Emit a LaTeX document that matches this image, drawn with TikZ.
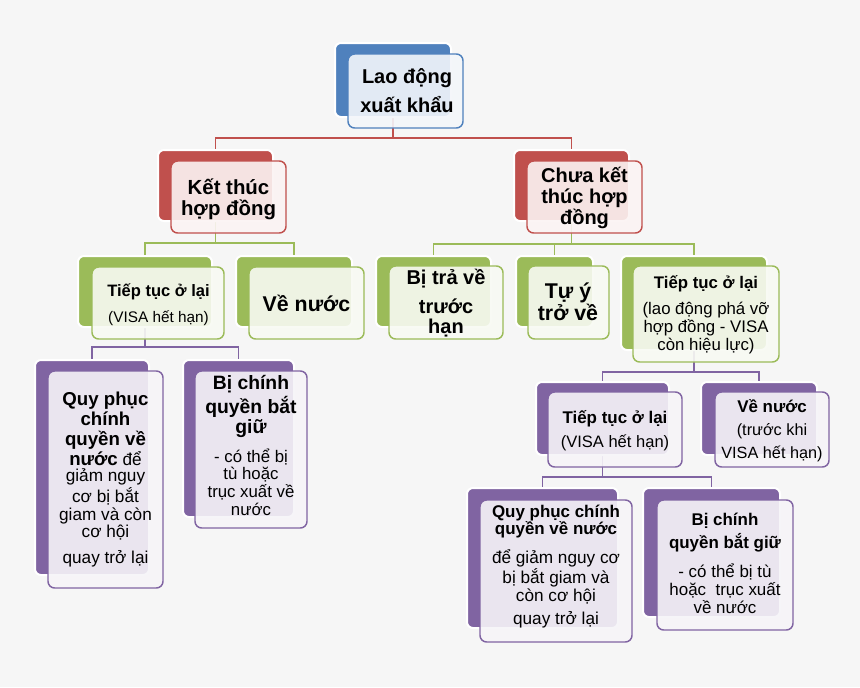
\documentclass[tikz,border=0pt]{standalone}
\usepackage{fontspec}
\setmainfont{Liberation Sans}
\pgfdeclarelayer{bottom}
\pgfdeclarelayer{background}
\pgfsetlayers{bottom,background,main}
\definecolor{bgc}{HTML}{F6F6F6}
\definecolor{cblue}{HTML}{4F81BD}
\definecolor{cred}{HTML}{C0504D}
\definecolor{cgreen}{HTML}{9BBB59}
\definecolor{cpurple}{HTML}{8064A2}
\newcommand\mkbox[7]{%
  \pgfmathsetmacro\bw{(#6-#4)*0.75}%
  \pgfmathsetmacro\bh{(#7-#5)*0.75}%
  \node[#2=#3, minimum width=\bw pt, minimum height=\bh pt] (#1) at ({(#4+#6)/2},{(#5+#7)/2}) {};}
\tikzset{
  backbox/.style={fill=#1, draw=white, line width=1.5pt, rounded corners=4.5pt, inner sep=0pt, outer sep=0pt},
  frontbox/.style={draw=#1, fill=#1!7!white, fill opacity=0.9, line width=1.1pt, rounded corners=5pt, inner sep=0pt, outer sep=0pt},
  link/.style={draw=#1, line width=1.2pt},
  txt/.style={align=center, inner sep=0pt, outer sep=0pt, text=black, anchor=base}
}
\newcommand\bft[1]{{\bfseries #1}}
\begin{document}
\begin{tikzpicture}[x=0.75pt,y=-0.75pt]
\begin{pgfonlayer}{bottom}
\fill[bgc] (0,0) rectangle (860,687);
\end{pgfonlayer}
\useasboundingbox (0,0) rectangle (860,687);

% level 0
\mkbox{root}{backbox}{cblue}{335}{43}{451}{117}
\mkbox{rootf}{frontbox}{cblue}{348}{54}{463}{128}
% level 1
\mkbox{kt}{backbox}{cred}{158}{150}{273}{221}
\mkbox{ktf}{frontbox}{cred}{171}{161}{286}{233}
\mkbox{ck}{backbox}{cred}{514}{150}{629}{221}
\mkbox{ckf}{frontbox}{cred}{527}{161}{642}{233}
% level 2
\mkbox{g1}{backbox}{cgreen}{78}{256}{212}{327}
\mkbox{g1f}{frontbox}{cgreen}{92}{267}{224}{339}
\mkbox{g2}{backbox}{cgreen}{236}{256}{352}{327}
\mkbox{g2f}{frontbox}{cgreen}{249}{267}{364}{339}
\mkbox{g3}{backbox}{cgreen}{376}{256}{491}{327}
\mkbox{g3f}{frontbox}{cgreen}{389}{266}{503}{339}
\mkbox{g4}{backbox}{cgreen}{516}{256}{593}{327}
\mkbox{g4f}{frontbox}{cgreen}{528}{266}{609}{339}
\mkbox{g5}{backbox}{cgreen}{621}{256}{767}{350}
\mkbox{g5f}{frontbox}{cgreen}{633}{266}{779}{362}
% level 3
\mkbox{p1}{backbox}{cpurple}{35}{360}{149}{575}
\mkbox{p1f}{frontbox}{cpurple}{48}{371}{163}{588}
\mkbox{p2}{backbox}{cpurple}{183}{360}{294}{517}
\mkbox{p2f}{frontbox}{cpurple}{195}{371}{307}{528}
\mkbox{p3}{backbox}{cpurple}{536}{382}{669}{455}
\mkbox{p3f}{frontbox}{cpurple}{548}{392}{682}{467}
\mkbox{p4}{backbox}{cpurple}{701}{382}{817}{455}
\mkbox{p4f}{frontbox}{cpurple}{715}{392}{829}{467}
% level 4
\mkbox{p5}{backbox}{cpurple}{467}{488}{618}{628}
\mkbox{p5f}{frontbox}{cpurple}{480}{500}{632}{642}
\mkbox{p6}{backbox}{cpurple}{643}{488}{780}{617}
\mkbox{p6f}{frontbox}{cpurple}{657}{500}{793}{630}

% texts (anchored at the baseline of the last line)
\node[txt, font=\bfseries\fontsize{15}{21.75}\selectfont] (troot) at (407,112) {Lao động\\xuất khẩu};
\node[txt, font=\bfseries\fontsize{15.3}{15.75}\selectfont] (tkt) at (228.5,215) {Kết thúc\\hợp đồng};
\node[txt, font=\bfseries\fontsize{15}{15.4}\selectfont] (tck) at (584.5,224) {Chưa kết\\thúc hợp\\đồng};
\node[txt, font=\bfseries\fontsize{15}{15}\selectfont] (tg3) at (446,333) {Bị trả về\\[6.75pt]trước\\hạn};
\node[txt, font=\bfseries\fontsize{16}{16.5}\selectfont] (tg4) at (568,320) {Tự ý\\trở về};
\node[txt, font=\fontsize{12.6}{13.5}\selectfont] (tg5) at (706,350) {\bft{Tiếp tục ở lại}\\[6pt](lao động phá vỡ\\hợp đồng - VISA\\còn hiệu lực)};
\node[txt, font=\fontsize{11.5}{19.5}\selectfont] (tg1) at (158.5,322) {{\bfseries\fontsize{12.4}{19.5}\selectfont Tiếp tục ở lại}\\(VISA hết hạn)};
\node[txt, font=\bfseries\fontsize{16}{16}\selectfont] (tg2) at (306.5,311) {Về nước};
\node[txt, font=\fontsize{12.9}{13.5}\selectfont] (tp1) at (105.5,563) {{\bfseries\fontsize{14}{13.5}\selectfont Quy phục}\\[1.5pt]{\bfseries\fontsize{14}{13.5}\selectfont chính}\\[1.5pt]{\bfseries\fontsize{14}{13.5}\selectfont quyền về}\\[1.5pt]{\bfseries\fontsize{14}{13.5}\selectfont nước} để\\[-1.5pt]giảm nguy\\[0.75pt]cơ bị bắt\\giam và còn\\[-0.75pt]cơ hội\\[6pt]quay trở lại};
\node[txt, font=\fontsize{12.6}{13.2}\selectfont] (tp2) at (251,515) {{\bfseries\fontsize{14.5}{13.2}\selectfont Bị chính}\\[1pt]{\bfseries\fontsize{14.5}{13.2}\selectfont quyền bắt}\\[1pt]{\bfseries\fontsize{14.5}{13.2}\selectfont giữ}\\[7pt]- có thể bị\\tù hoặc\\trục xuất về\\nước};
\node[txt, font=\fontsize{12.4}{18}\selectfont] (tp3) at (615,447) {{\bfseries\fontsize{12.7}{18}\selectfont Tiếp tục ở lại}\\(VISA hết hạn)};
\node[txt, font=\fontsize{12.2}{17.25}\selectfont] (tp4) at (772,458) {{\bfseries\fontsize{12.7}{17.25}\selectfont Về nước}\\(trước khi\\VISA hết hạn)};
\node[txt, font=\fontsize{12.9}{12.75}\selectfont] (tp5) at (556,624) {{\bfseries\fontsize{12.7}{12.75}\selectfont Quy phục chính}\\{\bfseries\fontsize{12.7}{12.75}\selectfont quyền về nước}\\[7.5pt]để giảm nguy cơ\\bị bắt giam và\\[0.75pt]còn cơ hội\\[4.5pt]quay trở lại};
\node[txt, font=\fontsize{12.7}{13.5}\selectfont] (tp6) at (725,613) {{\bfseries\fontsize{12.7}{13.5}\selectfont Bị chính}\\[2.25pt]{\bfseries\fontsize{12.7}{13.5}\selectfont quyền bắt giữ}\\[8.25pt]- có thể bị tù\\hoặc\ \ trục xuất\\về nước};

% connectors
\begin{pgfonlayer}{background}
\draw[link=cred] (root.south) -- ++(0,21) -| (kt.north);
\draw[link=cred] (root.south) -- ++(0,21) -| (ck.north);
\draw[link=cgreen] (kt.south) -- ++(0,22) -| (g1.north);
\draw[link=cgreen] (kt.south) -- ++(0,22) -| (g2.north);
\draw[link=cgreen] (ck.south) -- ++(0,23) -| (g3.north);
\draw[link=cgreen] (ck.south) -- ++(0,23) -| (g4.north);
\draw[link=cgreen] (ck.south) -- ++(0,23) -| (g5.north);
\draw[link=cpurple] (g1.south) -- ++(0,20) -| (p1.north);
\draw[link=cpurple] (g1.south) -- ++(0,20) -| (p2.north);
\draw[link=cpurple] (g5.south) -- ++(0,22) -| (p3.north);
\draw[link=cpurple] (g5.south) -- ++(0,22) -| (p4.north);
\draw[link=cpurple] (p3.south) -- ++(0,22) -| (p5.north);
\draw[link=cpurple] (p3.south) -- ++(0,22) -| (p6.north);
\end{pgfonlayer}
\end{tikzpicture}
\end{document}
